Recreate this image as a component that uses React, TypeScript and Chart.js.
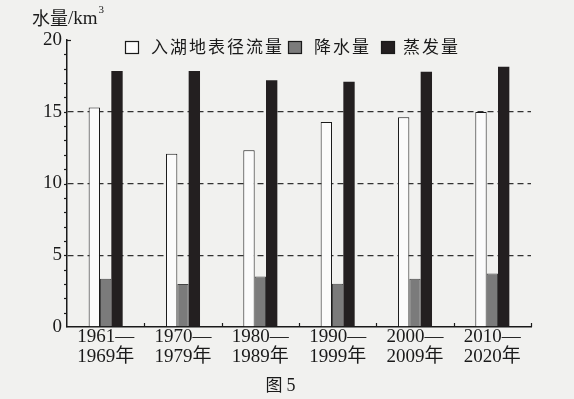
import React, { useEffect, useRef } from "react";
import { Chart, registerables } from "chart.js";

Chart.register(...registerables);

const categories: string[][] = [
  ["1961—", "1969年"],
  ["1970—", "1979年"],
  ["1980—", "1989年"],
  ["1990—", "1999年"],
  ["2000—", "2009年"],
  ["2010—", "2020年"],
];
const runoff = [15.3, 12.08, 12.32, 14.29, 14.61, 14.98];
const precipitation = [3.36, 2.99, 3.52, 3.01, 3.36, 3.73];
const evaporation = [17.84, 17.84, 17.2, 17.09, 17.79, 18.14];
const seriesNames = ["入湖地表径流量", "降水量", "蒸发量"];
const yTicks = [0, 5, 10, 15, 20];
const yTitle = "水量/km";
const caption = "图 5";

const SERIF = '"Liberation Serif", "DejaVu Serif", "Noto Sans CJK SC", serif';
const CJK = '"Noto Sans CJK SC", "Liberation Serif", serif';
const INK = "#1a1a1a";

const decor = {
  id: "decor",
  beforeDraw(chart: any) {
    const { ctx } = chart;
    ctx.save();
    ctx.fillStyle = "#f1f1ef";
    ctx.fillRect(0, 0, chart.width, chart.height);
    ctx.restore();
  },
  afterDraw(chart: any) {
    const { ctx, chartArea } = chart;
    const x = chart.scales.x;
    const y = chart.scales.y;
    ctx.save();
    ctx.strokeStyle = INK;
    ctx.lineWidth = 1.2;
    // y minor ticks
    for (let v = 1; v <= 20; v++) {
      const py = Math.round(y.getPixelForValue(v)) + 0.5;
      ctx.beginPath();
      if (v === 20) {
        ctx.moveTo(chartArea.left, py);
        ctx.lineTo(chartArea.left + 4, py);
      } else {
        ctx.moveTo(chartArea.left - 3, py);
        ctx.lineTo(chartArea.left, py);
      }
      ctx.stroke();
    }
    // x boundary ticks
    const n = categories.length;
    const bounds: number[] = [];
    for (let i = 0; i < n - 1; i++) {
      bounds.push((x.getPixelForValue(i) + x.getPixelForValue(i + 1)) / 2);
    }
    bounds.push(chartArea.right);
    bounds.forEach((bx) => {
      const px = Math.round(bx) + 0.5;
      ctx.beginPath();
      ctx.moveTo(px, chartArea.bottom);
      ctx.lineTo(px, chartArea.bottom - 4);
      ctx.stroke();
    });

    // title
    ctx.fillStyle = INK;
    ctx.textBaseline = "middle";
    ctx.textAlign = "left";
    ctx.font = "18px " + CJK;
    ctx.fillText("水量", 32, 18);
    const w1 = ctx.measureText("水量").width;
    ctx.font = "19px " + SERIF;
    ctx.fillText(yTitle.slice(2), 32 + w1, 19);
    const w2 = ctx.measureText(yTitle.slice(2)).width;
    ctx.font = "11px " + SERIF;
    ctx.fillText("3", 33 + w1 + w2, 10);

    // legend
    const items = [
      { sq: 125, tx: 151, fill: "#fbfbfb" },
      { sq: 288, tx: 314, fill: "#7b7b7b" },
      { sq: 381, tx: 403, fill: "#231f20" },
    ];
    ctx.font = "17px " + CJK;
    try {
      (ctx as any).letterSpacing = "2px";
    } catch (e) {}
    items.forEach((it, i) => {
      ctx.fillStyle = it.fill;
      ctx.fillRect(it.sq, 41, 13, 12);
      ctx.strokeStyle = INK;
      ctx.lineWidth = 1.2;
      ctx.strokeRect(it.sq + 0.5, 41.5, 13, 12);
      ctx.fillStyle = INK;
      ctx.fillText(seriesNames[i], it.tx, 47);
    });
    try {
      (ctx as any).letterSpacing = "0px";
    } catch (e) {}

    // caption
    ctx.textAlign = "center";
    ctx.font = "17px " + CJK;
    ctx.fillText(caption.split(" ")[0], 274, 385);
    ctx.font = "18px " + SERIF;
    ctx.fillText(caption.split(" ")[1], 291, 386);
    ctx.restore();
  },
};

export default function App() {
  const ref = useRef<HTMLCanvasElement | null>(null);
  useEffect(() => {
    if (!ref.current) return;
    const chart = new Chart(ref.current, {
      type: "bar",
      data: {
        labels: categories,
        datasets: [
          {
            label: seriesNames[0],
            data: runoff,
            backgroundColor: "#fbfbfb",
            borderColor: INK,
            borderWidth: 1,
          },
          {
            label: seriesNames[1],
            data: precipitation,
            backgroundColor: "#7b7b7b",
            borderColor: "#444",
            borderWidth: 1,
          },
          {
            label: seriesNames[2],
            data: evaporation,
            backgroundColor: "#231f20",
            borderColor: "#231f20",
            borderWidth: 0,
          },
        ],
      },
      options: {
        responsive: false,
        animation: false,
        devicePixelRatio: 1,
        layout: { padding: { top: 40, right: 43, bottom: 0, left: 0 } },
        datasets: { bar: { barPercentage: 1, categoryPercentage: 0.44 } },
        plugins: {
          legend: { display: false },
          title: { display: false },
          tooltip: { enabled: false },
        },
        scales: {
          x: {
            type: "category",
            offset: true,
            grid: { display: false, drawTicks: false },
            border: { display: true, color: INK, width: 1.5 },
            ticks: {
              padding: 0,
              color: INK,
              maxRotation: 0,
              autoSkip: false,
              font: { family: SERIF, size: 19, lineHeight: 20 / 19 },
            },
            afterFit: (s: any) => {
              s.height = 72;
            },
          },
          y: {
            min: 0,
            max: 20,
            afterBuildTicks: (s: any) => {
              s.ticks = yTicks.map((v) => ({ value: v }));
            },
            grid: {
              drawTicks: false,
              color: (c: any) =>
                c.tick && c.tick.value > 0 && c.tick.value < 20 ? "#333" : "rgba(0,0,0,0)",
              lineWidth: 1.3,
            },
            border: { display: true, color: INK, width: 1.5, dash: [6, 4] },
            ticks: {
              padding: 5,
              color: INK,
              font: { family: SERIF, size: 19 },
            },
            afterFit: (s: any) => {
              s.width = 67;
            },
          },
        },
      },
      plugins: [decor],
    } as any);
    return () => chart.destroy();
  }, []);
  return (
    <div style={{ position: "fixed", left: 0, top: 0, width: 574, height: 399 }}>
      <canvas ref={ref} width={574} height={399} style={{ width: 574, height: 399 }} />
    </div>
  );
}
